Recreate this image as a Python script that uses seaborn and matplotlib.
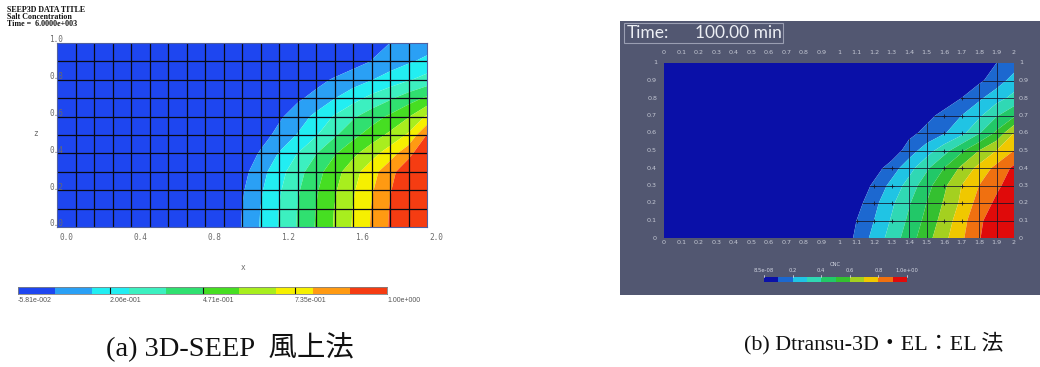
import numpy as np
import matplotlib
matplotlib.use("Agg")
import matplotlib.pyplot as plt
from matplotlib.colors import ListedColormap
from matplotlib.patches import Rectangle
from matplotlib.transforms import blended_transform_factory as blend, offset_copy
import seaborn as sns

sns.set_style("white")
plt.rcParams["font.family"] = ["DejaVu Sans"]

W, H = 1040, 367

# ---------------- (a) 3D-SEEP, upwind scheme ----------------
a_levels = np.linspace(-0.0581, 1.0, 11)
a_colors = ["#1e46f0", "#2aa0f5", "#22eef2", "#3cf0c0", "#30e070",
            "#46de22", "#a8ee1e", "#f6f000", "#ff9a12", "#f53c12"]
a_ticks = [-0.0581, 0.206, 0.471, 0.735, 1.0]
a_ticklabels = ["-5.81e-002", "2.06e-001", "4.71e-001", "7.35e-001", "1.00e+000"]
a_x = [0.0, 0.9, 1.0, 1.1, 1.2, 1.3, 1.4, 1.5, 1.6, 1.7, 1.8, 1.9, 2.0]
a_y = [0.0, 0.1, 0.2, 0.3, 0.4, 0.5, 0.6, 0.7, 0.8, 0.9, 1.0]
a_conc = [
    [-0.06, -0.053, 0.053, 0.160, 0.266, 0.372, 0.479, 0.585, 0.691, 0.798, 0.904, 1.0, 1.0],
    [-0.06, -0.058, 0.048, 0.155, 0.261, 0.367, 0.473, 0.580, 0.686, 0.793, 0.900, 1.0, 1.0],
    [-0.06, -0.074, 0.034, 0.139, 0.245, 0.351, 0.457, 0.563, 0.669, 0.776, 0.885, 1.0, 1.0],
    [-0.06, -0.100, 0.009, 0.114, 0.219, 0.324, 0.429, 0.534, 0.640, 0.747, 0.857, 0.973, 1.0],
    [-0.06, -0.130, -0.026, 0.060, 0.160, 0.260, 0.360, 0.460, 0.550, 0.640, 0.740, 0.860, 1.0],
    [-0.06, -0.170, -0.070, 0.000, 0.080, 0.160, 0.250, 0.350, 0.440, 0.520, 0.600, 0.700, 0.900],
    [-0.06, -0.200, -0.120, -0.050, 0.030, 0.100, 0.180, 0.270, 0.350, 0.420, 0.490, 0.570, 0.700],
    [-0.06, -0.200, -0.150, -0.100, -0.030, 0.030, 0.080, 0.150, 0.220, 0.290, 0.350, 0.420, 0.490],
    [-0.06, -0.200, -0.200, -0.150, -0.080, -0.030, 0.015, 0.060, 0.100, 0.150, 0.200, 0.250, 0.300],
    [-0.06, -0.200, -0.200, -0.200, -0.150, -0.100, -0.060, -0.030, 0.010, 0.050, 0.100, 0.140, 0.180],
    [-0.06, -0.200, -0.200, -0.200, -0.200, -0.150, -0.100, -0.060, -0.020, 0.020, 0.048, 0.075, 0.100],
]
a_xlabels = ["0.0", "0.4", "0.8", "1.2", "1.6", "2.0"]
a_ylabels = ["0.0", "0.2", "0.4", "0.6", "0.8", "1.0"]
a_header = ["SEEP3D DATA TITLE", "Salt Concentration", "Time =  6.0000e+003"]
a_caption = "(a) 3D-SEEP  風上法"

# ---------------- (b) Dtransu-3D-EL, EL scheme ----------------
b_levels = np.linspace(0.0, 1.0, 11)
b_colors = ["#0a10a8", "#1c68d0", "#20c4e4", "#30d8b4", "#22c868",
            "#34c030", "#a4d020", "#f0c800", "#f07010", "#e00a0a"]
b_ticks = [0.0, 0.2, 0.4, 0.6, 0.8, 1.0]
b_ticklabels = ["8.5e-08", "0.2", "0.4", "0.6", "0.8", "1.0e+00"]
b_x = [0.0, 1.0, 1.1, 1.2, 1.3, 1.4, 1.5, 1.6, 1.7, 1.8, 1.9, 2.0]
b_y = [0.0, 0.1, 0.2, 0.3, 0.4, 0.5, 0.6, 0.7, 0.8, 0.9, 1.0]
b_conc = [
    [0, 0.01, 0.122, 0.232, 0.342, 0.452, 0.562, 0.672, 0.782, 0.892, 0.98, 1.0],
    [0, 0.01, 0.10, 0.20, 0.31, 0.42, 0.53, 0.64, 0.76, 0.88, 0.96, 1.0],
    [0, 0.0, 0.06, 0.17, 0.28, 0.39, 0.50, 0.61, 0.72, 0.84, 0.92, 0.98],
    [0, 0.0, 0.02, 0.12, 0.23, 0.34, 0.46, 0.58, 0.70, 0.80, 0.88, 0.95],
    [0, 0.0, 0.0, 0.05, 0.15, 0.26, 0.38, 0.50, 0.62, 0.73, 0.83, 0.92],
    [0, 0.0, 0.0, 0.0, 0.03, 0.15, 0.25, 0.36, 0.48, 0.60, 0.70, 0.80],
    [0, 0.0, 0.0, 0.0, 0.0, 0.07, 0.13, 0.19, 0.27, 0.39, 0.52, 0.70],
    [0, 0.0, 0.0, 0.0, 0.0, 0.0, 0.07, 0.13, 0.20, 0.28, 0.39, 0.48],
    [0, 0.0, 0.0, 0.0, 0.0, 0.0, 0.0, 0.04, 0.10, 0.18, 0.26, 0.33],
    [0, 0.0, 0.0, 0.0, 0.0, 0.0, 0.0, 0.0, 0.03, 0.08, 0.15, 0.24],
    [0, 0.0, 0.0, 0.0, 0.0, 0.0, 0.0, 0.0, 0.0, 0.05, 0.10, 0.15],
]
b_mesh_x = [1.4, 1.5, 1.8, 1.9]
b_mesh_y = [0.1, 0.2, 0.3, 0.4, 0.5, 0.6, 0.7, 0.8, 0.9]
b_node_x = [1.1, 1.2, 1.3, 1.6, 1.7]
b_xlabels = ["0", "0.1", "0.2", "0.3", "0.4", "0.5", "0.6", "0.7", "0.8", "0.9", "1",
             "1.1", "1.2", "1.3", "1.4", "1.5", "1.6", "1.7", "1.8", "1.9", "2"]
b_ylabels = ["0", "0.1", "0.2", "0.3", "0.4", "0.5", "0.6", "0.7", "0.8", "0.9", "1"]
b_time = ("Time:", "100.00 min")
b_caption = "(b) Dtransu-3D・EL：EL 法"

serif_cjk = ["Liberation Serif", "Noto Sans CJK JP"]


def frac(x0, y0, x1, y1):
    """Pixel box (left, top, right, bottom) -> figure fraction rect."""
    return [x0 / W, 1 - y1 / H, (x1 - x0) / W, (y1 - y0) / H]


def shift(ax, trans, dx, dy):
    return offset_copy(trans, fig=ax.figure, x=dx, y=dy, units="dots")


def draw_field(ax, xs, ys, conc, levels, colors):
    lv = np.array(levels, dtype=float)
    lv[0], lv[-1] = -10.0, 10.0
    return ax.contourf(xs, ys, np.array(conc), levels=lv, colors=colors,
                       antialiased=True, zorder=1)


def strip(ax, levels, colors):
    mids = (np.array(levels[:-1]) + np.array(levels[1:])) / 2
    sns.heatmap(mids[None, :], cmap=ListedColormap(colors), vmin=levels[0],
                vmax=levels[-1], cbar=False, ax=ax, xticklabels=False,
                yticklabels=False, linewidths=0)
    return (levels[-1] - levels[0]) / (len(levels) - 1)


fig = plt.figure(figsize=(W / 100, H / 100), dpi=100)
fig.patch.set_facecolor("white")

# ---- panel (a) ----
ax_a = fig.add_axes(frac(57, 43, 427, 227))
draw_field(ax_a, a_x, a_y, a_conc, a_levels, a_colors)
ax_a.set_xlim(0, 2)
ax_a.set_ylim(0, 1)
for gx in np.arange(0.1, 2.0, 0.1):
    ax_a.axvline(gx, color="#0a0a14", lw=0.9, zorder=2)
for gy in np.arange(0.1, 1.0, 0.1):
    ax_a.axhline(gy, color="#0a0a14", lw=0.9, zorder=2)
ax_a.set_xticks([])
ax_a.set_yticks([])
for sp in ax_a.spines.values():
    sp.set_color("#5060a0")
    sp.set_linewidth(0.8)

mono = dict(family="DejaVu Sans Mono", fontsize=5.6, color="#6a6a6a")
tx = blend(ax_a.transData, ax_a.transAxes)
for lbl in a_xlabels:
    ax_a.text(float(lbl), 0, lbl, transform=shift(ax_a, tx, 2, -11),
              ha="left", va="center", **mono)
ty = blend(ax_a.transAxes, ax_a.transData)
for lbl in a_ylabels:
    ax_a.text(0, float(lbl), lbl, transform=shift(ax_a, ty, -8, 3),
              ha="left", va="center", zorder=5, **mono)
ax_a.text(0.5, 0, "x", transform=shift(ax_a, ax_a.transAxes, 1, -41),
          ha="center", va="center", **mono)
ax_a.text(0, 0.5, "z", transform=shift(ax_a, ax_a.transAxes, -21, 2),
          ha="center", va="center", **mono)

for i, line in enumerate(a_header):
    fig.text(7 / W, 1 - (10 + 6.8 * i) / H, line, ha="left", va="center",
             fontsize=5.8, weight="bold", family="Liberation Serif", color="#111")

cax_a = fig.add_axes(frac(18, 287, 387, 294))
step_a = strip(cax_a, a_levels, a_colors)
for sp in cax_a.spines.values():
    sp.set_visible(True)
    sp.set_color("#808080")
    sp.set_linewidth(0.6)
ctr = blend(cax_a.transData, cax_a.transAxes)
for v, lbl in zip(a_ticks, a_ticklabels):
    pos = (v - a_levels[0]) / step_a
    if 0 < pos < len(a_colors):
        cax_a.plot([pos, pos], [0, 1], transform=ctr, color="#101010", lw=0.8)
    cax_a.text(pos, 0, lbl, transform=shift(cax_a, ctr, 0, -7), ha="left",
               va="center", fontsize=5.0, family="Liberation Sans", color="#555")

fig.text(230 / W, 1 - 347 / H, a_caption, ha="center", va="center",
         fontsize=20.5, family=serif_cjk, color="#111")

# ---- panel (b) ----
bg = "#525771"
fig.add_artist(Rectangle((620 / W, 1 - 295 / H), 420 / W, 274 / H,
                         transform=fig.transFigure, facecolor=bg,
                         edgecolor="none", zorder=-1))

ax_b = fig.add_axes(frac(664, 63, 1014, 238))
draw_field(ax_b, b_x, b_y, b_conc, b_levels, b_colors)
ax_b.set_xlim(0, 2)
ax_b.set_ylim(0, 1)
ax_b.set_xticks([])
ax_b.set_yticks([])
for sp in ax_b.spines.values():
    sp.set_visible(False)

# element edges and nodes, visible only where the plume has arrived
front = ax_b.contourf(b_x, b_y, np.array(b_conc), levels=[b_levels[1], 10.0],
                      colors="none")
front_path = front.get_paths()[0]
mesh_kw = dict(color="#14142a", lw=0.7, alpha=0.8, zorder=3)
for mx in b_mesh_x:
    ln, = ax_b.plot([mx, mx], [0, 1], **mesh_kw)
    ln.set_clip_path(front_path, ax_b.transData)
for my in b_mesh_y:
    ln, = ax_b.plot([1.0, 2.0], [my, my], **mesh_kw)
    ln.set_clip_path(front_path, ax_b.transData)
nx, ny = np.meshgrid(b_node_x, b_mesh_y)
nodes, = ax_b.plot(nx.ravel(), ny.ravel(), linestyle="none", marker="+",
                   markersize=3.2, markeredgewidth=0.7, color="#14142a",
                   alpha=0.8, zorder=3)
nodes.set_clip_path(front_path, ax_b.transData)

tick_kw = dict(fontsize=4.6, color="#c4c8d4", family="DejaVu Sans")
tbx = blend(ax_b.transData, ax_b.transAxes)
for lbl in b_xlabels:
    ax_b.text(float(lbl), 1, lbl, transform=shift(ax_b, tbx, 0, 10),
              ha="center", va="center", **tick_kw)
    ax_b.text(float(lbl), 0, lbl, transform=shift(ax_b, tbx, 0, -5),
              ha="center", va="center", **tick_kw)
tby = blend(ax_b.transAxes, ax_b.transData)
for lbl in b_ylabels:
    ax_b.text(0, float(lbl), lbl, transform=shift(ax_b, tby, -7, 0),
              ha="right", va="center", **tick_kw)
    ax_b.text(1, float(lbl), lbl, transform=shift(ax_b, tby, 5, 0),
              ha="left", va="center", **tick_kw)

fig.add_artist(Rectangle((624 / W, 1 - 43 / H), 159 / W, 20 / H,
                         transform=fig.transFigure, facecolor="none",
                         edgecolor="#9a9eb2", lw=0.8))
fig.text(627 / W, 1 - 33 / H, b_time[0], ha="left", va="center",
         fontsize=12.5, color="#eceef4", family="Lato")
fig.text(782 / W, 1 - 33 / H, b_time[1], ha="right", va="center",
         fontsize=12.5, color="#eceef4", family="Lato")

cax_b = fig.add_axes(frac(764, 277, 907, 282))
step_b = strip(cax_b, b_levels, b_colors)
cbt = blend(cax_b.transData, cax_b.transAxes)
for v, lbl in zip(b_ticks, b_ticklabels):
    pos = (v - b_levels[0]) / step_b
    cax_b.plot([pos, pos], [1.0, 1.5], transform=cbt, color="#d0d4e0",
               lw=0.6, clip_on=False)
    cax_b.text(pos, 1, lbl, transform=shift(cax_b, cbt, 0, 6), ha="center",
               va="center", fontsize=3.8, color="#d0d4e0")
cax_b.text(0.5, 1, "CNC", transform=shift(cax_b, cax_b.transAxes, 0, 13),
           ha="center", va="center", fontsize=3.8, color="#d0d4e0")

fig.text(874 / W, 1 - 343 / H, b_caption, ha="center", va="center",
         fontsize=15.8, family=serif_cjk, color="#111")

fig.savefig("out.png", dpi=100, facecolor="white")
